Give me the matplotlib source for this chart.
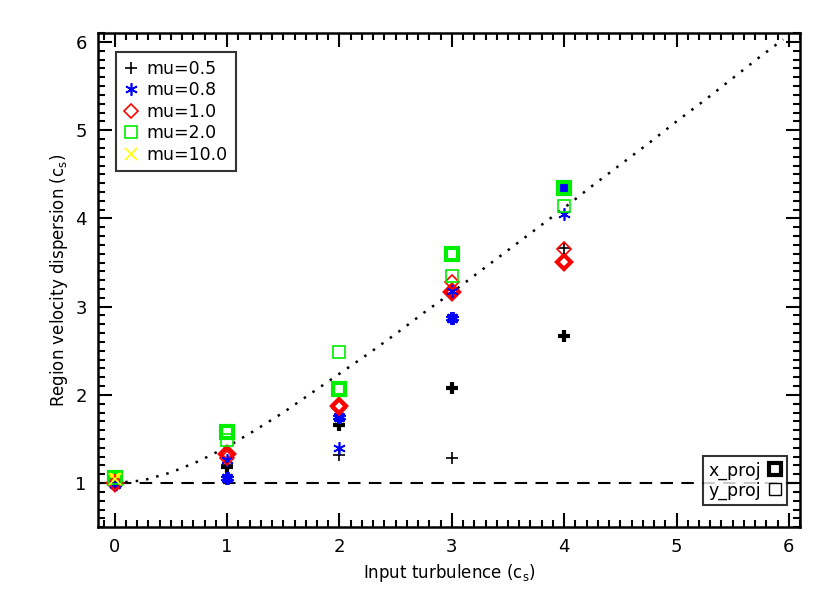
import matplotlib
matplotlib.use("Agg")
import matplotlib.pyplot as plt
from matplotlib.lines import Line2D
from matplotlib.ticker import MultipleLocator

plt.rcParams.update({"font.family": "DejaVu Sans", "font.size": 12})

# input turbulence values
turb = [0, 1, 2, 3, 4]

# x_proj (thick symbols) and y_proj (thin symbols) per mu
mu05_x = [1.00, 1.18, 1.66, 2.08, 2.67]
mu05_y = [1.00, 1.20, 1.32, 1.28, 3.67]
mu08_x = [0.99, 1.06, 1.75, 2.87, 4.35]
mu08_y = [0.99, 1.26, 1.40, 3.18, 4.05]
mu10_x = [1.00, 1.33, 1.87, 3.17, 3.51]
mu10_y = [1.00, 1.28, 1.85, 3.28, 3.65]
mu20_x = [1.06, 1.58, 2.07, 3.60, 4.35]
mu20_y = [1.06, 1.49, 2.49, 3.35, 4.14]
mu100_x = [1.05]
mu100_y = [1.05]

# dotted reference curve
curve_x = [0, 0.25, 0.5, 0.75, 1, 1.25, 1.5, 1.75, 2, 2.25, 2.5, 2.75, 3,
           3.25, 3.5, 3.75, 4, 4.25, 4.5, 4.75, 5, 5.25, 5.5, 5.75, 5.95]
curve_y = [1.00, 1.03, 1.12, 1.25, 1.41, 1.60, 1.80, 2.02, 2.24, 2.46,
           2.69, 2.93, 3.16, 3.40, 3.64, 3.88, 4.12, 4.37, 4.61, 4.85,
           5.10, 5.34, 5.59, 5.84, 6.03]

series = [
    (mu05_x, mu05_y, "+", "black", "mu=0.5"),
    (mu08_x, mu08_y, (6, 2, 0), "blue", "mu=0.8"),
    (mu10_x, mu10_y, "D", "red", "mu=1.0"),
    (mu20_x, mu20_y, "s", "#00ee00", "mu=2.0"),
    (mu100_x, mu100_y, "x", "yellow", "mu=10.0"),
]

fig = plt.figure(figsize=(8.3, 5.93), dpi=100)
ax = fig.add_axes([0.118, 0.111, 0.846, 0.833])

ax.axhline(1.0, color="black", ls=(0, (6, 4)), lw=1.5, zorder=1)
ax.plot(curve_x, curve_y, color="black", ls=(0, (1, 3.2)), lw=1.8, zorder=1)

handles = []
for xs_, ys_, mk, col, lab in series:
    small = mk == "D"
    ms = 7 if small else 9
    ax.plot(turb[:len(xs_)], xs_, ls="none", marker=mk, mfc="none", mec=col,
            ms=ms, mew=3.0, zorder=3)
    ax.plot(turb[:len(ys_)], ys_, ls="none", marker=mk, mfc="none", mec=col,
            ms=ms, mew=1.2, zorder=4)
    handles.append(Line2D([], [], ls="none", marker=mk, mfc="none", mec=col,
                          ms=ms, mew=1.2, label=lab))

leg1 = ax.legend(handles=handles, loc="upper left", bbox_to_anchor=(0.026, 0.962),
                 frameon=True, fancybox=False, edgecolor="black", fontsize=12.5,
                 handlelength=0.8, handletextpad=0.5, labelspacing=0.2,
                 borderpad=0.45, borderaxespad=0.0)
leg1.get_frame().set_linewidth(1.5)
ax.add_artist(leg1)

proj = [Line2D([], [], ls="none", marker="s", mfc="none", mec="black", ms=9,
               mew=3.0, label="x_proj"),
        Line2D([], [], ls="none", marker="s", mfc="none", mec="black", ms=9,
               mew=1.0, label="y_proj")]
leg2 = ax.legend(handles=proj, loc="lower right", bbox_to_anchor=(0.981, 0.045),
                 frameon=True, fancybox=False, edgecolor="black", fontsize=12.5,
                 markerfirst=False, handlelength=0.8, handletextpad=0.4,
                 labelspacing=0.1, borderpad=0.3, borderaxespad=0.0)
leg2.get_frame().set_linewidth(1.5)

ax.set_xlim(-0.15, 6.1)
ax.set_ylim(0.5, 6.1)
ax.xaxis.set_major_locator(MultipleLocator(1))
ax.xaxis.set_minor_locator(MultipleLocator(0.1))
ax.yaxis.set_major_locator(MultipleLocator(1))
ax.yaxis.set_minor_locator(MultipleLocator(0.1))
ax.tick_params(which="both", direction="in", top=True, right=True, width=1.5)
ax.tick_params(which="major", length=10, labelsize=13, pad=8)
ax.tick_params(which="minor", length=5)
for s in ax.spines.values():
    s.set_linewidth(1.8)

ax.set_xlabel("Input turbulence (c$_\\mathregular{s}$)", fontsize=12)
ax.set_ylabel("Region velocity dispersion (c$_\\mathregular{s}$)", fontsize=12)

fig.savefig("out.png", dpi=100)
